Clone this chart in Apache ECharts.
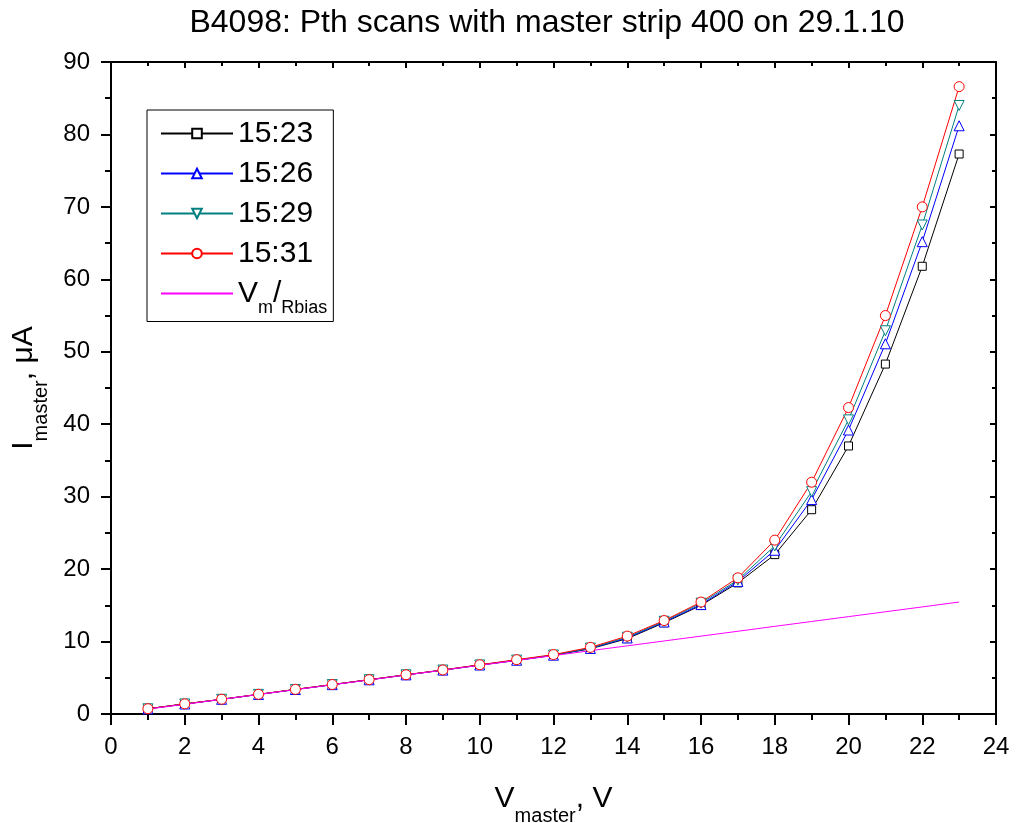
<!DOCTYPE html>
<html>
<head>
<meta charset="utf-8">
<script src="https://cdn.jsdelivr.net/npm/echarts@6/dist/echarts.min.js"></script>
<style>
html, body { margin: 0; padding: 0; background: #fff; }
#main { width: 1019px; height: 823px; }
</style>
</head>
<body>
<div id="main"></div>
<script>
// V_master, V
var volts = [1, 2, 3, 4, 5, 6, 7, 8, 9, 10, 11, 12, 13, 14, 15, 16, 17, 18, 19, 20, 21, 22, 23];
// I_master, uA
var s1523 = [0.72, 1.38, 2.02, 2.7, 3.38, 4.05, 4.72, 5.4, 6.05, 6.75, 7.4, 8.1, 9.0, 10.4, 12.6, 15.0, 18.1, 22.0, 28.2, 37.0, 48.3, 61.8, 77.3];
var s1526 = [0.72, 1.38, 2.03, 2.7, 3.38, 4.05, 4.72, 5.4, 6.06, 6.76, 7.42, 8.12, 9.05, 10.5, 12.7, 15.1, 18.3, 22.6, 29.6, 39.2, 51.1, 65.2, 81.2];
var s1529 = [0.72, 1.39, 2.03, 2.71, 3.39, 4.06, 4.73, 5.41, 6.07, 6.77, 7.44, 8.14, 9.1, 10.6, 12.8, 15.3, 18.5, 23.2, 30.7, 40.6, 52.9, 67.5, 84.0];
var s1531 = [0.73, 1.4, 2.04, 2.72, 3.4, 4.07, 4.74, 5.42, 6.08, 6.8, 7.5, 8.2, 9.2, 10.75, 12.9, 15.45, 18.8, 24.0, 32.0, 42.3, 55.0, 70.0, 86.6];
var vmRbias = [0.67, 1.34, 2.02, 2.69, 3.36, 4.03, 4.70, 5.38, 6.05, 6.72, 7.39, 8.06, 8.74, 9.41, 10.08, 10.75, 11.42, 12.10, 12.77, 13.44, 14.11, 14.78, 15.46];
var seriesNames = ['15:23', '15:26', '15:29', '15:31', 'Vm/Rbias'];

function pairs(ys) {
	var out = [];
	for (var i = 0; i < volts.length; i++) out.push([volts[i], ys[i]]);
	return out;
}

var myChart = echarts.init(document.getElementById('main'));

var font = 'Liberation Sans, Arial, sans-serif';
var axisLine = { show: true, onZero: false, lineStyle: { color: '#000', width: 2 } };
var subStyle = { fontFamily: font, fontSize: 20, color: '#000', padding: [34, 0, 0, 0] };

function lineSeries(name, ys, symbol, size, color, rotate) {
	return {
		name: name,
		type: 'line',
		data: pairs(ys),
		symbol: symbol,
		symbolSize: size,
		symbolRotate: rotate || 0,
		color: color,
		lineStyle: { width: 1, color: color },
		itemStyle: { color: '#ffffff', borderColor: color, borderWidth: 1 }
	};
}

var option = {
	backgroundColor: '#fff',
	animation: false,
	textStyle: { fontFamily: font, color: '#000' },
	title: {
		text: 'B4098: Pth scans with master strip 400 on 29.1.10',
		left: 542,
		textAlign: 'center',
		top: 2,
		textStyle: { fontFamily: font, fontSize: 32, fontWeight: 'normal', color: '#000' }
	},
	grid: { left: 111, right: 23, top: 62, bottom: 109, outerBoundsMode: 'none' },
	legend: {
		left: 147,
		top: 110,
		orient: 'vertical',
		padding: [8, 6, 4, 13],
		borderColor: '#000',
		borderWidth: 1,
		borderRadius: 0,
		itemWidth: 72,
		itemHeight: 12,
		itemGap: 9,
		data: ['15:23', '15:26', '15:29', '15:31', { name: 'Vm/Rbias', itemStyle: { opacity: 0 } }],
		formatter: function(name) {
			if (name === 'Vm/Rbias') return 'V{sub|m}/{sub|Rbias}';
			return name;
		},
		textStyle: {
			fontFamily: font, fontSize: 30, color: '#000', lineHeight: 31,
			rich: {
				sub: { fontFamily: font, fontSize: 18, color: '#000', padding: [30, 0, 0, 0] }
			}
		}
	},
	xAxis: [{
		type: 'value',
		min: 0, max: 24, interval: 2,
		name: 'V{sub|master}, V',
		nameLocation: 'middle',
		nameGap: 58,
		nameTextStyle: {
			fontFamily: font, fontSize: 30, color: '#000',
			rich: { sub: subStyle }
		},
		axisLine: axisLine,
		axisTick: { show: true, inside: false, length: 11, lineStyle: { color: '#000', width: 2 } },
		minorTick: { show: true, splitNumber: 2, length: 6, lineStyle: { color: '#000', width: 2 } },
		axisLabel: { fontFamily: font, fontSize: 24, color: '#000', margin: 21 },
		splitLine: { show: false }
	}, {
		type: 'value',
		position: 'top',
		min: 0, max: 24, interval: 2,
		axisLine: axisLine,
		axisTick: { show: true, inside: true, length: 6, lineStyle: { color: '#000', width: 2 } },
		minorTick: { show: true, splitNumber: 2, length: 4, lineStyle: { color: '#000', width: 2 } },
		axisLabel: { show: false },
		splitLine: { show: false }
	}],
	yAxis: [{
		type: 'value',
		min: 0, max: 90, interval: 10,
		name: 'I{sub|master}, μA',
		nameLocation: 'middle',
		nameGap: 60,
		nameRotate: 90,
		nameTextStyle: {
			fontFamily: font, fontSize: 30, color: '#000',
			rich: { sub: subStyle }
		},
		axisLine: axisLine,
		axisTick: { show: true, inside: false, length: 10, lineStyle: { color: '#000', width: 2 } },
		minorTick: { show: true, splitNumber: 2, length: 6, lineStyle: { color: '#000', width: 2 } },
		axisLabel: { fontFamily: font, fontSize: 24, color: '#000', margin: 21 },
		splitLine: { show: false }
	}, {
		type: 'value',
		position: 'right',
		min: 0, max: 90, interval: 10,
		axisLine: axisLine,
		axisTick: { show: true, inside: true, length: 6, lineStyle: { color: '#000', width: 2 } },
		minorTick: { show: true, splitNumber: 2, length: 4, lineStyle: { color: '#000', width: 2 } },
		axisLabel: { show: false },
		splitLine: { show: false }
	}],
	series: [
		lineSeries('15:23', s1523, 'rect', 8, '#000000'),
		lineSeries('15:26', s1526, 'triangle', 10, '#0000ff'),
		lineSeries('15:29', s1529, 'triangle', 10, '#008080', 180),
		lineSeries('15:31', s1531, 'circle', 10, '#ff0000'),
		{
			name: 'Vm/Rbias',
			type: 'line',
			data: pairs(vmRbias),
			symbol: 'none',
			color: '#ff00ff',
			lineStyle: { width: 1, color: '#ff00ff' }
		}
	]
};

myChart.setOption(option);
</script>
</body>
</html>
